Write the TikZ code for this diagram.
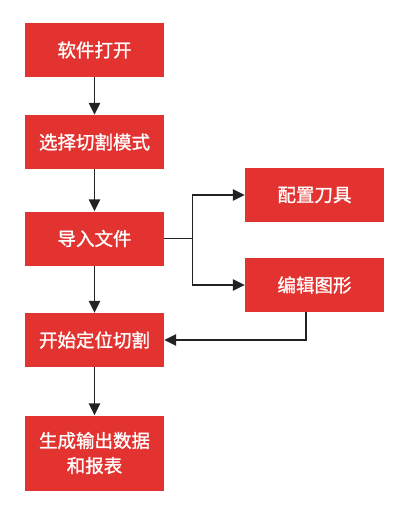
\documentclass[tikz,border=0pt]{standalone}
\usepackage{fontspec}
\setmainfont{Noto Sans CJK SC}
\newfontfamily\boxfont[FakeBold=1.2]{Noto Sans CJK SC}
\usetikzlibrary{arrows.meta}
\definecolor{boxred}{HTML}{E23330}
\definecolor{linegray}{HTML}{222222}
\tikzset{
    stepbox/.style={fill=boxred, text=white, minimum width=139pt, minimum height=54pt,
        inner sep=0pt, align=center, font=\boxfont\fontsize{18.5}{25}\selectfont},
    flow/.style={draw=linegray, line width=1.5pt, -{Triangle[length=12pt,width=11.5pt]}}
}
\begin{document}
\begin{tikzpicture}[x=1pt,y=-1pt]
    \useasboundingbox (0,0) rectangle (407,516);
    \node [stepbox] (1) at (94.5, 50) {软件打开};
	\node [stepbox] (2) at (94.5, 142) {选择切割模式};
	\node [stepbox] (3) at (94.5, 238.5) {导入文件};
	\node [stepbox] (4) at (94.5, 340) {开始定位切割};
	\node [stepbox, minimum height=75pt] (5) at (94.5, 453) {生成输出数据\\和报表};
	\node [stepbox] (6) at (314.5, 195) {配置刀具};
	\node [stepbox] (7) at (314.5, 285) {编辑图形};
	\coordinate (8) at (192.5, 238.5);
	\coordinate (9) at (306, 340);
	% edges
	\draw [flow] (1) to (2);
	\draw [flow] (2) to (3);
	\draw [flow] (3) to (4);
	\draw [flow] (4) to (5);
	\draw [flow] (3.east) -- (8) |- (6.west);
	\draw [flow] (8) |- (7.west);
	\draw [flow] (7.south -| 9) -- (9) -- (4.east);
\end{tikzpicture}
\end{document}
